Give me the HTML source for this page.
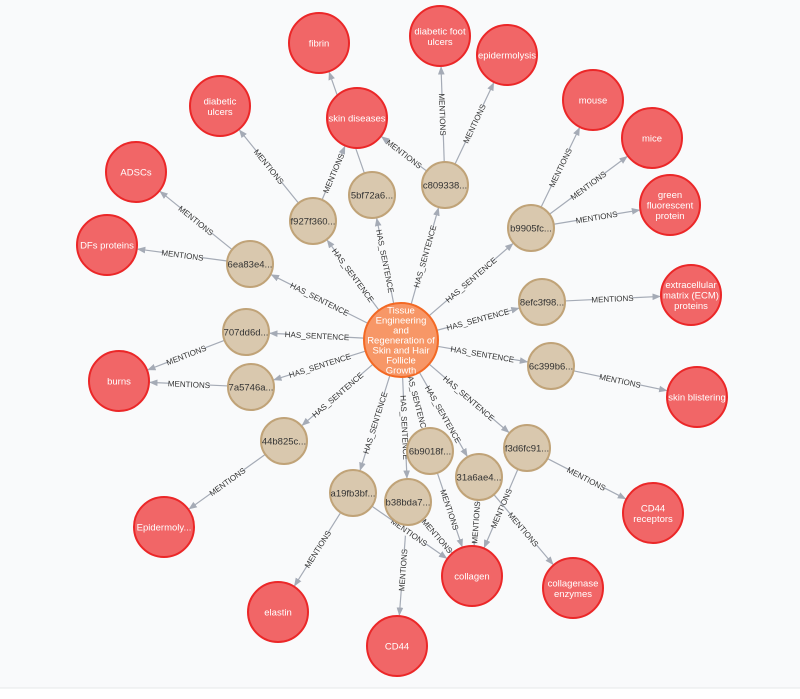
<!DOCTYPE html>
<html><head><meta charset="utf-8"><style>
html,body{margin:0;padding:0;background:#f9fafb;}
svg{display:block;font-family:"Liberation Sans",sans-serif;}
</style></head><body>
<svg id="s" width="800" height="699" viewBox="0 0 800 699">
<rect x="0" y="0" width="800" height="688" fill="#f9fafb"/>
<rect x="0" y="688" width="800" height="11" fill="#ffffff"/>
<line x1="0" y1="688" x2="800" y2="688" stroke="#e6e8ea"/>
<defs><marker id="a" viewBox="0 0 10 10" refX="9" refY="5" markerWidth="7" markerHeight="7" orient="auto"><path d="M0,1 L10,5 L0,9 z" fill="#a5abb6"/></marker></defs>
<g id="edges"></g><g id="nodes"></g>
</svg>
<script>
var N={
C:[401,340,37,"c",["Tissue","Engineering","and","Regeneration of","Skin and Hair","Follicle","Growth"]],
f927:[313,221,23,"t",["f927f360..."]],
s5bf:[372,195,23,"t",["5bf72a6..."]],
c809:[445,185,23,"t",["c809338..."]],
b990:[531,228,23,"t",["b9905fc..."]],
e8ef:[542,302,23,"t",["8efc3f98..."]],
c6c3:[551,366,23,"t",["6c399b6..."]],
f3d6:[527,448,23,"t",["f3d6fc91..."]],
a31a:[479,477,23,"t",["31a6ae4..."]],
b6b9:[430,451,23,"t",["6b9018f..."]],
b38b:[408,502,23,"t",["b38bda7..."]],
a19f:[353,493,23,"t",["a19fb3bf..."]],
d44b:[284,441,23,"t",["44b825c..."]],
a7a5:[251,387,23,"t",["7a5746a..."]],
d707:[246,332,23,"t",["707dd6d..."]],
e6ea:[250,264,23,"t",["6ea83e4..."]],
fibrin:[319,43,30,"r",["fibrin"]],
dfu:[440,36,30,"r",["diabetic foot","ulcers"]],
epi:[507,55,30,"r",["epidermolysis"]],
skd:[357,118,30,"r",["skin diseases"]],
du:[220,106,30,"r",["diabetic","ulcers"]],
mouse:[593,100,30,"r",["mouse"]],
mice:[652,138,30,"r",["mice"]],
gfp:[670,205,30,"r",["green","fluorescent","protein"]],
adsc:[136,172,30,"r",["ADSCs"]],
dfp:[107,245,30,"r",["DFs proteins"]],
ecm:[691,295,30,"r",["extracellular","matrix (ECM)","proteins"]],
burns:[119,381,30,"r",["burns"]],
sb:[697,397,30,"r",["skin blistering"]],
cd44r:[653,513,30,"r",["CD44","receptors"]],
epy:[164,527,30,"r",["Epidermoly..."]],
col:[472,576,30,"r",["collagen"]],
cole:[573,588,30,"r",["collagenase","enzymes"]],
ela:[278,612,30,"r",["elastin"]],
cd44:[397,646,30,"r",["CD44"]]
};
var E=[];
["f927","s5bf","c809","b990","e8ef","c6c3","f3d6","a31a","b6b9","b38b","a19f","d44b","a7a5","d707","e6ea"].forEach(function(t){E.push(["C",t,"HAS_SENTENCE"]);});
[["f927","du"],["f927","skd"],["s5bf","fibrin"],["c809","skd"],["c809","dfu"],["c809","epi"],["b990","mouse"],["b990","mice"],["b990","gfp"],["e8ef","ecm"],["c6c3","sb"],["f3d6","cd44r"],["f3d6","col"],["a31a","cole"],["a31a","col"],["b6b9","col"],["b38b","cd44"],["b38b","col"],["a19f","ela"],["a19f","col"],["d44b","epy"],["a7a5","burns"],["d707","burns"],["e6ea","adsc"],["e6ea","dfp"]].forEach(function(p){E.push([p[0],p[1],"MENTIONS"]);});
var ns="http://www.w3.org/2000/svg";
function el(n,a,p){var e=document.createElementNS(ns,n);for(var k in a)e.setAttribute(k,a[k]);p.appendChild(e);return e;}
var ge=document.getElementById("edges"),gn=document.getElementById("nodes");
E.forEach(function(e){var a=N[e[0]],b=N[e[1]];var dx=b[0]-a[0],dy=b[1]-a[1],L=Math.hypot(dx,dy),ux=dx/L,uy=dy/L;
var x1=a[0]+ux*a[2],y1=a[1]+uy*a[2],x2=b[0]-ux*(b[2]+1),y2=b[1]-uy*(b[2]+1);
el("line",{x1:x1,y1:y1,x2:x2,y2:y2,stroke:"#a5abb6","stroke-width":1.2,"marker-end":"url(#a)"},ge);
var mx=(x1+x2)/2,my=(y1+y2)/2,ang=Math.atan2(dy,dx)*180/Math.PI;if(ang>90)ang-=180;if(ang<-90)ang+=180;
var g=el("g",{transform:"translate("+mx+","+my+") rotate("+ang+")"},ge);
var w=e[2].length*4.6;
el("rect",{x:-w/2-1,y:-5,width:w+2,height:10,fill:"#f9fafb"},g);
var t=el("text",{x:0,y:3,"text-anchor":"middle","font-size":"8",fill:"#333"},g);t.textContent=e[2];});
for(var k in N){var n=N[k];var fill=n[3]=="c"?"#f79767":n[3]=="t"?"#d9c8ae":"#f16667",st=n[3]=="c"?"#f36924":n[3]=="t"?"#c0a378":"#eb2728";
el("circle",{cx:n[0],cy:n[1],r:n[2],fill:fill,stroke:st,"stroke-width":2},gn);
var lines=n[4],lh=n[3]=="c"?10:10.5,fs=n[3]=="c"?9.5:(n[3]=="t"?9.5:9.5);
var y0=n[1]-(lines.length-1)*lh/2+3.5;
lines.forEach(function(s,i){var t=el("text",{x:n[0],y:y0+i*lh,"text-anchor":"middle","font-size":fs,fill:n[3]=="t"?"#333":"#fff"},gn);t.textContent=s;});}
</script>
</body></html>
